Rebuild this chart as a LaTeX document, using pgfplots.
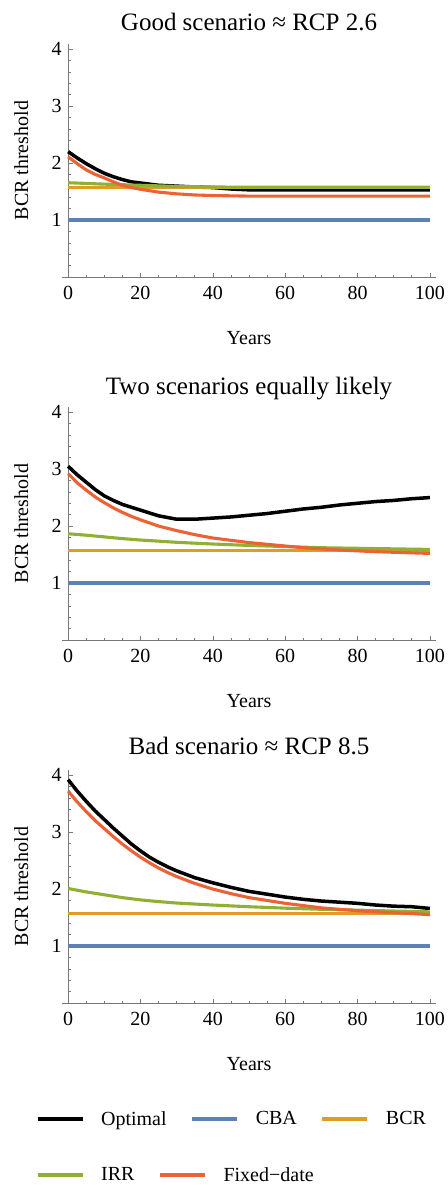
\documentclass[border=0pt]{standalone}
\usepackage{fontspec}
\setmainfont{Liberation Serif}
\usepackage{pgfplots}
\pgfplotsset{compat=1.18}
\definecolor{cOpt}{RGB}{0,0,0}
\definecolor{cCBA}{RGB}{94,129,181}
\definecolor{cBCR}{RGB}{225,156,36}
\definecolor{cIRR}{RGB}{143,176,50}
\definecolor{cFix}{RGB}{235,98,53}
\definecolor{axgray}{RGB}{120,120,120}

\pgfplotsset{panel/.style={
  scale only axis, width=374bp, height=233bp,
  xmin=-1.7, xmax=101.7, ymin=0, ymax=4.09,
  axis lines*=middle,
  hide obscured x ticks=false, hide obscured y ticks=false,
  axis line style={axgray, line width=0.7bp},
  xtick={0,20,40,60,80,100}, ytick={1,2,3,4},
  minor xtick={5,10,15,25,30,35,45,50,55,65,70,75,85,90,95},
  minor ytick={0.2,0.4,0.6,0.8,1.2,1.4,1.6,1.8,2.2,2.4,2.6,2.8,3.2,3.4,3.6,3.8},
  tick align=inside, major tick length=4.5bp, minor tick length=2.5bp,
  every tick/.style={axgray, line width=0.6bp},
  tick label style={font=\fontsize{20bp}{24bp}\selectfont},
  x tick label style={yshift=-6bp},
  y tick label style={xshift=-3bp},
  /pgf/number format/assume math mode=true,
  every axis title/.style={font=\fontsize{25bp}{30bp}\selectfont, at={(axis description cs:0.5,1)}, anchor=base, yshift=13bp},
  xlabel={Years}, ylabel={BCR threshold},
  every axis x label/.style={font=\fontsize{20bp}{24bp}\selectfont, at={(axis description cs:0.5,-0.29)}, anchor=base},
  every axis y label/.style={font=\fontsize{20bp}{24bp}\selectfont, at={(axis description cs:-0.0909,0.5)}, anchor=base, rotate=90},
},
curve/.style={line width=3.1bp},
optcurve/.style={line width=3.5bp},
legrow/.style={hide axis, scale only axis, width=448bp, height=10bp,
  xmin=0, xmax=1, ymin=0, ymax=1, anchor=west,
  legend style={at={(axis description cs:0.0804,0.5)}, anchor=west, draw=none, fill=none,
    inner sep=0pt, outer sep=0pt,
    font=\fontsize{20bp}{24bp}\selectfont,
    /tikz/every odd column/.style={column sep=17bp},
    /tikz/every even column/.style={column sep=24bp},
    nodes={inner sep=0pt}},
  legend image code/.code={\draw[#1, line width=3.1bp] (0bp,0bp) -- (45bp,0bp);}}
}

\begin{document}
\begin{tikzpicture}
% Panel 1
\begin{axis}[panel, at={(62bp,-277bp)}, anchor=south west, title={Good scenario ≈ RCP 2.6}]
\addplot[cOpt, optcurve] coordinates {(0,2.20)(2.5,2.09)(5,1.99)(7.5,1.90)(10,1.82)(12.5,1.76)(15,1.71)(17.5,1.67)(20,1.65)(25,1.61)(30,1.595)(35,1.58)(40,1.57)(45,1.545)(50,1.53)(100,1.53)};
\addplot[cCBA, curve] coordinates {(0,1)(100,1)};
\addplot[cBCR, curve] coordinates {(0,1.57)(100,1.57)};
\addplot[cIRR, curve] coordinates {(0,1.655)(10,1.63)(20,1.61)(30,1.59)(40,1.58)(50,1.577)(60,1.575)(100,1.575)};
\addplot[cFix, curve] coordinates {(0,2.11)(2.5,1.99)(5,1.88)(7.5,1.80)(10,1.74)(12.5,1.67)(15,1.61)(17.5,1.57)(20,1.54)(25,1.49)(30,1.46)(35,1.44)(40,1.43)(50,1.42)(100,1.42)};
\end{axis}
% Panel 2
\begin{axis}[panel, at={(62bp,-640bp)}, anchor=south west, title={Two scenarios equally likely}]
\addplot[cOpt, optcurve] coordinates {(0,3.05)(2.5,2.90)(5,2.77)(7.5,2.64)(10,2.53)(12.5,2.45)(15,2.38)(17.5,2.33)(20,2.28)(22.5,2.23)(25,2.18)(27.5,2.15)(30,2.12)(32.5,2.12)(35,2.12)(37.5,2.13)(40,2.14)(45,2.16)(50,2.19)(55,2.22)(60,2.26)(65,2.30)(70,2.33)(75,2.37)(80,2.40)(85,2.43)(90,2.45)(95,2.48)(100,2.50)};
\addplot[cCBA, curve] coordinates {(0,1)(100,1)};
\addplot[cBCR, curve] coordinates {(0,1.57)(100,1.57)};
\addplot[cIRR, curve] coordinates {(0,1.865)(5,1.84)(10,1.81)(15,1.78)(20,1.755)(25,1.735)(30,1.715)(40,1.685)(50,1.66)(60,1.64)(70,1.62)(80,1.61)(90,1.60)(100,1.59)};
\addplot[cFix, curve] coordinates {(0,2.92)(2.5,2.76)(5,2.63)(7.5,2.51)(10,2.41)(12.5,2.32)(15,2.24)(17.5,2.17)(20,2.11)(25,2.00)(30,1.92)(35,1.85)(40,1.79)(45,1.75)(50,1.71)(55,1.68)(60,1.65)(65,1.62)(70,1.60)(75,1.58)(80,1.565)(85,1.55)(90,1.54)(95,1.53)(100,1.52)};
\end{axis}
% Panel 3
\begin{axis}[panel, at={(62bp,-1003bp)}, anchor=south west, title={Bad scenario ≈ RCP 8.5}, title style={yshift=3bp}]
\addplot[cOpt, optcurve] coordinates {(0,3.92)(2.5,3.72)(5,3.54)(7.5,3.37)(10,3.22)(12.5,3.07)(15,2.93)(17.5,2.79)(20,2.67)(22.5,2.56)(25,2.47)(27.5,2.39)(30,2.32)(35,2.20)(40,2.11)(45,2.03)(50,1.96)(55,1.91)(60,1.86)(65,1.82)(70,1.79)(75,1.77)(80,1.75)(85,1.72)(90,1.70)(95,1.69)(100,1.66)};
\addplot[cCBA, curve] coordinates {(0,1)(100,1)};
\addplot[cBCR, curve] coordinates {(0,1.57)(100,1.57)};
\addplot[cIRR, curve] coordinates {(0,2.01)(5,1.95)(10,1.90)(15,1.85)(20,1.81)(25,1.78)(30,1.755)(40,1.72)(50,1.69)(60,1.665)(70,1.645)(80,1.63)(90,1.615)(100,1.60)};
\addplot[cFix, curve] coordinates {(0,3.72)(2.5,3.53)(5,3.36)(7.5,3.20)(10,3.06)(12.5,2.92)(15,2.79)(17.5,2.67)(20,2.56)(22.5,2.46)(25,2.37)(27.5,2.29)(30,2.22)(35,2.10)(40,2.00)(45,1.92)(50,1.85)(55,1.80)(60,1.75)(65,1.71)(70,1.67)(75,1.645)(80,1.62)(85,1.60)(90,1.585)(95,1.57)(100,1.55)};
\end{axis}
% Legend row 1
\begin{axis}[legrow, at={(0bp,-1119bp)}, legend columns=3]
\addlegendimage{cOpt}\addlegendentry{Optimal}
\addlegendimage{cCBA}\addlegendentry{CBA}
\addlegendimage{cBCR}\addlegendentry{BCR}
\end{axis}
% Legend row 2
\begin{axis}[legrow, at={(0bp,-1175bp)}, legend columns=2]
\addlegendimage{cIRR}\addlegendentry{IRR}
\addlegendimage{cFix}\addlegendentry{Fixed−date}
\end{axis}
\pgfresetboundingbox
\path[use as bounding box] (0,0) rectangle (448bp,-1185bp);
\end{tikzpicture}
\end{document}
